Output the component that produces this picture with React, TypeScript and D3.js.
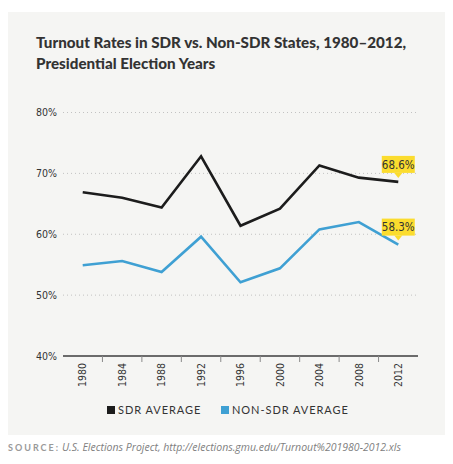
import React from "react";
import * as d3 from "d3";

const years = ["1980", "1984", "1988", "1992", "1996", "2000", "2004", "2008", "2012"];
const sdrAverage = [66.9, 66.0, 64.4, 72.8, 61.4, 64.2, 71.3, 69.3, 68.6];
const nonSdrAverage = [54.9, 55.6, 53.8, 59.6, 52.1, 54.4, 60.8, 62.0, 58.3];
const yTicks = [40, 50, 60, 70, 80];
const titleLines = ["Turnout Rates in SDR vs. Non-SDR States, 1980–2012,", "Presidential Election Years"];
const legendLabels = ["SDR AVERAGE", "NON-SDR AVERAGE"];
const sourceLabel = "SOURCE:";
const sourceText = "U.S. Elections Project, http://elections.gmu.edu/Turnout%201980-2012.xls";

const W = 453;
const H = 464;
const BLACK = "#1c1c1c";
const BLUE = "#3fa0d3";
const YELLOW = "#fbdc2e";
const COND = "'DejaVu Sans Condensed', 'DejaVu Sans', sans-serif";

export default function App() {
  const x = d3.scaleBand<string>().domain(years).range([63, 418]);
  const y = d3.scaleLinear().domain([40, 80]).range([356, 112.5]);
  const cx = (d: string) => (x(d) as number) + x.bandwidth() / 2;

  const line = d3
    .line<number>()
    .x((_, i) => cx(years[i]))
    .y((v) => y(v));

  const series = [
    { values: sdrAverage, color: BLACK },
    { values: nonSdrAverage, color: BLUE },
  ];

  const lastIdx = years.length - 1;

  return (
    <svg
      width={W}
      height={H}
      style={{ position: "absolute", left: 0, top: 0, display: "block" }}
    >
      <rect x={0} y={0} width={W} height={H} fill="#ffffff" />
      <rect x={8} y={12} width={437} height={423} fill="#f5f5f3" />

      {titleLines.map((t, i) => (
        <text
          key={t}
          x={36}
          y={48 + i * 21}
          fontFamily="Lato, sans-serif"
          fontWeight={900}
          fontSize={15.2}
          fill="#333"
        >
          {t}
        </text>
      ))}

      {/* gridlines */}
      {yTicks
        .filter((t) => t !== 40)
        .map((t) => (
          <line
            key={t}
            x1={63}
            x2={418}
            y1={y(t)}
            y2={y(t)}
            stroke="#b5b5b5"
            strokeWidth={0.8}
            strokeDasharray="1,3"
          />
        ))}

      {/* y tick labels */}
      {yTicks.map((t) => (
        <text
          key={t}
          x={57}
          y={y(t)}
          dy="0.35em"
          textAnchor="end"
          fontFamily={COND}
          fontSize={10.5}
          fill="#333"
        >
          {t}%
        </text>
      ))}

      {/* x axis */}
      <line x1={63} x2={418} y1={y(40)} y2={y(40)} stroke="#6b6b6b" strokeWidth={2} />
      {years.slice(1).map((d) => (
        <line
          key={d}
          x1={x(d) as number}
          x2={x(d) as number}
          y1={y(40)}
          y2={y(40) + 6}
          stroke="#8a8a8a"
          strokeWidth={1}
        />
      ))}
      {years.map((d) => (
        <text
          key={d}
          transform={`translate(${cx(d)},${y(40) + 7}) rotate(-90)`}
          textAnchor="end"
          dy="0.35em"
          fontFamily={COND}
          fontSize={10.5}
          fill="#333"
        >
          {d}
        </text>
      ))}

      {/* lines */}
      {series.map((s) => (
        <path
          key={s.color}
          d={line(s.values) || ""}
          fill="none"
          stroke={s.color}
          strokeWidth={2.6}
          strokeLinejoin="miter"
        />
      ))}

      {/* callouts */}
      {series.map((s) => {
        const px = cx(years[lastIdx]);
        const py = y(s.values[lastIdx]);
        const bw = 33;
        const bh = 17;
        const bottom = py - 9;
        return (
          <g key={"c" + s.color}>
            <rect x={px - bw / 2} y={bottom - bh} width={bw} height={bh} fill={YELLOW} />
            <path
              d={`M${px - 4},${bottom} L${px + 4},${bottom} L${px},${bottom + 5} Z`}
              fill={YELLOW}
            />
            <text
              x={px}
              y={bottom - bh / 2}
              dy="0.36em"
              textAnchor="middle"
              fontFamily={COND}
              fontSize={11.5}
              fill="#333"
            >
              {s.values[lastIdx].toFixed(1)}%
            </text>
          </g>
        );
      })}

      {/* legend */}
      {[
        { label: legendLabels[0], color: BLACK, x0: 107 },
        { label: legendLabels[1], color: BLUE, x0: 221 },
      ].map((l) => (
        <g key={l.label}>
          <rect x={l.x0} y={406} width={8} height={8} fill={l.color} />
          <text
            x={l.x0 + 11}
            y={410}
            dy="0.36em"
            fontFamily="Lato, sans-serif"
            fontSize={11}
            letterSpacing={0.95}
            fill="#333"
          >
            {l.label}
          </text>
        </g>
      ))}

      {/* source */}
      <text x={8} y={451} fontFamily="Lato, sans-serif" fontWeight={700} fontSize={9} letterSpacing={2} fill="#999">
        {sourceLabel}
      </text>
      <text x={62} y={451} fontFamily="'Open Sans', sans-serif" fontStyle="italic" fontSize={10.5} fill="#808080">
        {sourceText}
      </text>
    </svg>
  );
}
